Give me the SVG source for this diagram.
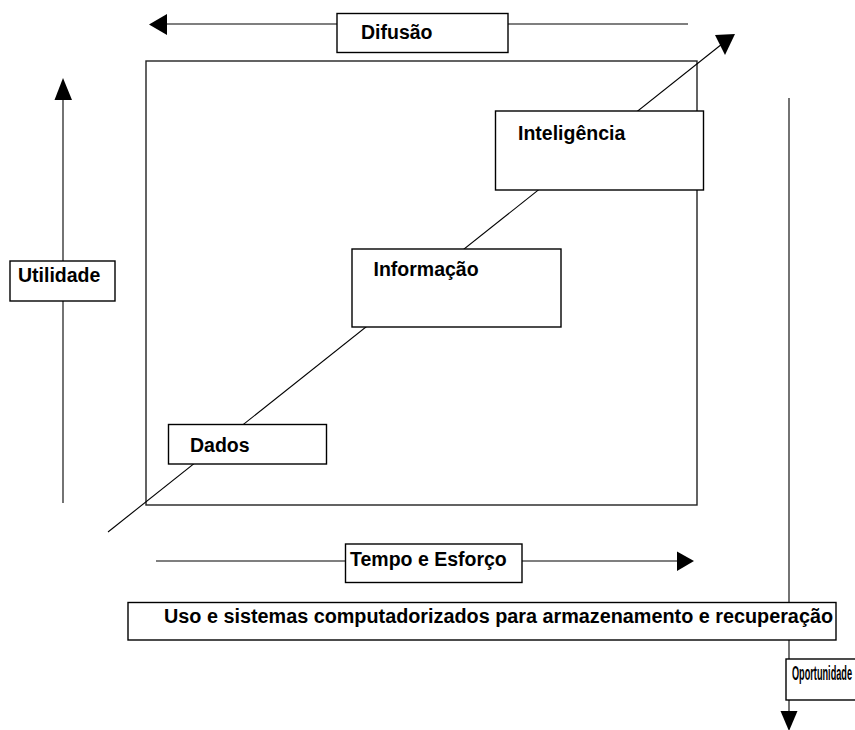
<svg xmlns="http://www.w3.org/2000/svg" width="855" height="730" viewBox="0 0 855 730">
  <style>
    .box { fill: #fff; stroke: #000; stroke-width: 1.4; }
    .frame { fill: none; stroke: #222; stroke-width: 1.4; }
    .line { fill: none; stroke: #000; stroke-width: 1.1; }
    .head { fill: #000; stroke: none; }
    .label { font-family: "Liberation Sans", Arial, sans-serif; font-weight: bold; font-size: 19.5px; fill: #000; }
  </style>

  <rect width="855" height="730" fill="#fff"/>

  <!-- central frame -->
  <rect class="frame" x="146" y="61" width="551" height="444"/>

  <g id="connectors">
    <!-- Difusão: right to left -->
    <line class="line" x1="688" y1="24" x2="162" y2="24"/>
    <polygon class="head" points="149,24.5 167,14 167,35"/>
    <!-- diagonal growth axis -->
    <line class="line" x1="108" y1="532" x2="722" y2="44"/>
    <polygon class="head" points="735,34 715,35 725,55"/>
    <!-- Utilidade: upwards -->
    <line class="line" x1="63" y1="503" x2="63" y2="96"/>
    <polygon class="head" points="63,78 54.5,100 72,100"/>
    <!-- Tempo e Esforço: left to right -->
    <line class="line" x1="156" y1="561" x2="680" y2="561"/>
    <polygon class="head" points="694,561 677,551.5 677,571"/>
    <!-- Oportunidade: downwards -->
    <line class="line" x1="789" y1="98" x2="789" y2="714"/>
    <polygon class="head" points="789,731 780.5,711 797.5,711"/>
  </g>

  <g id="difusao">
    <rect class="box" x="337" y="13.5" width="171" height="39"/>
    <text class="label" x="361" y="39">Difusão</text>
  </g>

  <g id="utilidade">
    <rect class="box" x="10" y="261" width="105" height="40"/>
    <text class="label" x="18" y="282">Utilidade</text>
  </g>

  <g id="inteligencia">
    <rect class="box" x="495.5" y="111" width="208" height="79"/>
    <text class="label" x="518" y="139.5">Inteligência</text>
  </g>

  <g id="informacao">
    <rect class="box" x="352" y="249" width="209" height="78"/>
    <text class="label" x="373.5" y="276">Informação</text>
  </g>

  <g id="dados">
    <rect class="box" x="168.5" y="424.5" width="158" height="39.5"/>
    <text class="label" x="190" y="452">Dados</text>
  </g>

  <g id="tempo-esforco">
    <rect class="box" x="345.5" y="544" width="176.5" height="38.5"/>
    <text class="label" x="350" y="566">Tempo e Esforço</text>
  </g>

  <g id="uso-sistemas">
    <rect class="box" x="128" y="602.5" width="708" height="37.5"/>
    <text class="label" x="164" y="623" textLength="669" lengthAdjust="spacingAndGlyphs">Uso e sistemas computadorizados para armazenamento e recuperação</text>
  </g>

  <g id="oportunidade">
    <rect class="box" x="786" y="659" width="90" height="41"/>
    <text class="label" x="792" y="680" textLength="60" lengthAdjust="spacingAndGlyphs">Oportunidade</text>
  </g>
</svg>
